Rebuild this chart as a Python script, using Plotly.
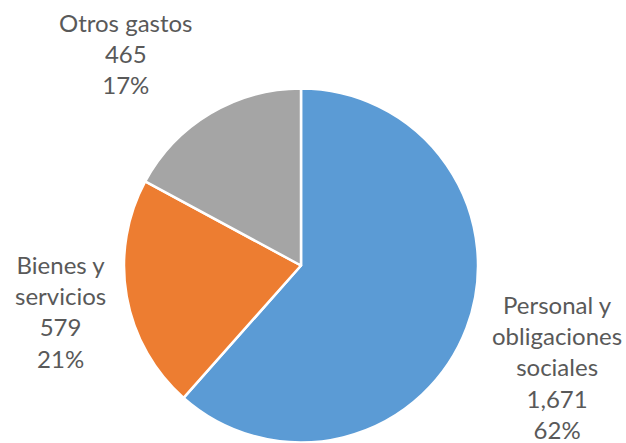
import plotly.graph_objects as go

# Gasto por rubro
categorias = ["Personal y<br>obligaciones<br>sociales", "Bienes y<br>servicios", "Otros gastos"]
valores = [1671, 579, 465]
colores = ["#5B9BD5", "#ED7D31", "#A5A5A5"]

W, H = 626, 443
total = sum(valores)

fig = go.Figure(
    go.Pie(
        labels=categorias,
        values=valores,
        sort=False,
        direction="clockwise",
        rotation=0,
        textinfo="none",
        hoverinfo="label+value+percent",
        marker=dict(colors=colores, line=dict(color="white", width=2.5)),
        domain=dict(x=[124 / W, 478 / W], y=[1 - 443 / H, 1 - 88 / H]),
        showlegend=False,
    )
)

# label centres in pixels (x, y)
posiciones = [(557, 367), (60, 311), (126, 54)]

for cat, val, (px, py) in zip(categorias, valores, posiciones):
    pct = round(val / total * 100)
    fig.add_annotation(
        x=px / W, y=1 - py / H, xref="paper", yref="paper",
        text=f"{cat}<br>{val:,}<br>{pct}%",
        showarrow=False, xanchor="center", yanchor="middle",
        font=dict(family="Lato", size=24, color="#595959"),
    )

fig.update_layout(
    width=W, height=H,
    margin=dict(l=0, r=0, t=0, b=0),
    paper_bgcolor="white",
    plot_bgcolor="white",
)

fig.write_html("out.html")
